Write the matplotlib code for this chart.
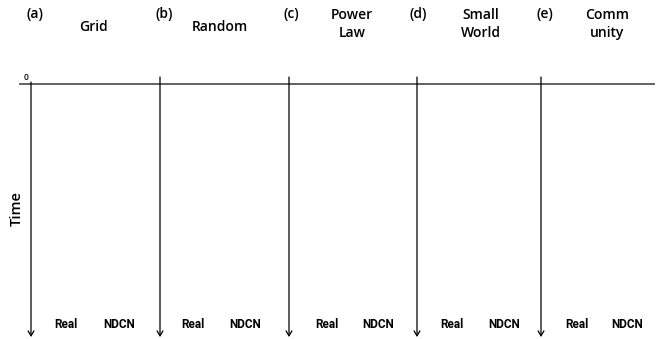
import matplotlib
matplotlib.use("Agg")
import matplotlib.pyplot as plt

# Data
panel_letters = ["(a)", "(b)", "(c)", "(d)", "(e)"]
panel_titles = ["Grid", "Random", "Power\nLaw", "Small\nWorld", "Comm\nunity"]
column_labels = ["Real", "NDCN"]
axis_label = "Time"
origin_label = "0"

# Layout (pixel coordinates)
W, H = 662, 339
arrow_x = [31, 160, 289, 417, 541]
letter_x = [35, 164, 291, 418, 545]
title_x = [93, 220, 352, 481, 607]
real_x = [66, 193, 327, 452, 577]
ndcn_x = [119, 245, 378, 504, 627]
hline_y = 84
arrow_top = 77
arrow_bottom = 337

fig = plt.figure(figsize=(W / 100, H / 100), dpi=100)
ax = fig.add_axes([0, 0, 1, 1])
ax.set_xlim(0, W)
ax.set_ylim(H, 0)
ax.axis("off")

font = ["Open Sans", "DejaVu Sans"]
narrow = ["Roboto", "DejaVu Sans"]

ax.plot([20, 654], [hline_y, hline_y], color="#555555", lw=1.3)
for i, x in enumerate(arrow_x):
    top = hline_y - 2 if i == 0 else arrow_top
    ax.annotate("", xy=(x, arrow_bottom), xytext=(x, top),
                arrowprops=dict(arrowstyle="->,head_length=0.5,head_width=0.3",
                                color="black", lw=0.9,
                                mutation_scale=7, shrinkA=0, shrinkB=0))
    ax.text(letter_x[i], 14, panel_letters[i], ha="center", va="center",
            fontsize=10, family=font, weight="semibold")
    ax.text(title_x[i], 27 if "\n" not in panel_titles[i] else 24,
            panel_titles[i], ha="center", va="center", fontsize=10,
            family=font, weight="semibold", linespacing=1.3)
    ax.text(real_x[i], 325, column_labels[0], ha="center", va="center",
            fontsize=8.5, family=narrow, weight="bold")
    ax.text(ndcn_x[i], 325, column_labels[1], ha="center", va="center",
            fontsize=8.5, family=narrow, weight="bold")

ax.text(26, 78, origin_label, ha="center", va="center", fontsize=6,
        family=font, weight="semibold")
ax.text(17, 208, axis_label, ha="center", va="center", rotation=90,
        fontsize=10.5, family=font, weight="semibold")

fig.savefig("out.png", dpi=100)
